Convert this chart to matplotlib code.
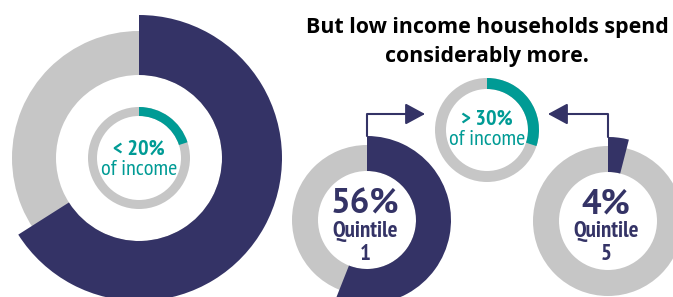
import matplotlib.pyplot as plt

# couleurs
navy = '#343366'
grey = '#c6c6c6'
teal = '#009b95'

# données
big_share = 66            # anneau extérieur (gauche)
avg_share = 20            # < 20% of income
high_share = 30           # > 30% of income
quintiles = ['1', '5']
quintile_shares = [56, 4]
avg_label = ['< 20%', 'of income']
high_label = ['> 30%', 'of income']
title = 'But low income households spend\nconsiderably more.'

narrow = ['PT Sans Narrow', 'DejaVu Sans']
wide = ['PT Sans', 'DejaVu Sans']
head = ['Open Sans', 'DejaVu Sans']

fig = plt.figure(figsize=(6.73, 2.97), dpi=100)
ax = fig.add_axes([0, 0, 1, 1])


def ring(center, share, radius, width, color):
    ax.pie([share, 100 - share], colors=[color, 'none'], startangle=90,
           counterclock=False, radius=radius, center=center,
           wedgeprops=dict(width=width, linewidth=0), frame=True)


def full(center, radius, width):
    ax.pie([100], colors=[grey], radius=radius, center=center,
           wedgeprops=dict(width=width, linewidth=0), frame=True)


# grand anneau à gauche
c_big = (139, 139)
full(c_big, 127, 44)
ring(c_big, big_share, 143, 60, navy)
full(c_big, 51, 9)
ring(c_big, avg_share, 51, 9, teal)
ax.text(c_big[0], 142, avg_label[0], ha='center', va='baseline', color=teal,
        fontsize=16, fontweight='bold', family=narrow)
ax.text(c_big[0], 122, avg_label[1], ha='center', va='baseline', color=teal,
        fontsize=16, family=narrow)

# anneau du milieu
c_mid = (487, 167)
full(c_mid, 52, 11)
ring(c_mid, high_share, 52, 11, teal)
ax.text(c_mid[0], 172, high_label[0], ha='center', va='baseline', color=teal,
        fontsize=16, fontweight='bold', family=narrow)
ax.text(c_mid[0], 152, high_label[1], ha='center', va='baseline', color=teal,
        fontsize=16, family=narrow)

# quintiles
q_centers = [(367, 77), (608, 76)]
tips = [425, 548]
for q, s, c, tip in zip(quintiles, quintile_shares, q_centers, tips):
    full(c, 75, 26)
    ring(c, s, 84, 35, navy)
    ax.text(c[0] - 2, 84, f'{s}%', ha='center', va='baseline', color=navy,
            fontsize=25, fontweight='bold', family=wide)
    ax.text(c[0] - 2, 60, 'Quintile', ha='center', va='baseline', color=navy,
            fontsize=16.5, fontweight='bold', family=narrow)
    ax.text(c[0] - 2, 37, q, ha='center', va='baseline', color=navy,
            fontsize=16.5, fontweight='bold', family=narrow)
    # flèche coudée vers l'anneau du milieu
    ax.annotate('', xy=(tip, 183), xytext=(c[0], c[1] + 84),
                arrowprops=dict(arrowstyle='-|>,head_length=1.2,head_width=0.65',
                                connectionstyle='angle,angleA=90,angleB=0,rad=0',
                                color=navy, lw=1.5, shrinkA=0, shrinkB=0))

line1, line2 = title.split('\n')
ax.text(487, 264, line1, ha='center', va='baseline',
        fontsize=15.4, fontweight='bold', family=head, color='black')
ax.text(487, 235, line2, ha='center', va='baseline',
        fontsize=15.4, fontweight='bold', family=head, color='black')

ax.set_xlim(0, 673)
ax.set_ylim(0, 297)
ax.set_aspect('auto')
ax.axis('off')

plt.savefig('out.png', dpi=100)
